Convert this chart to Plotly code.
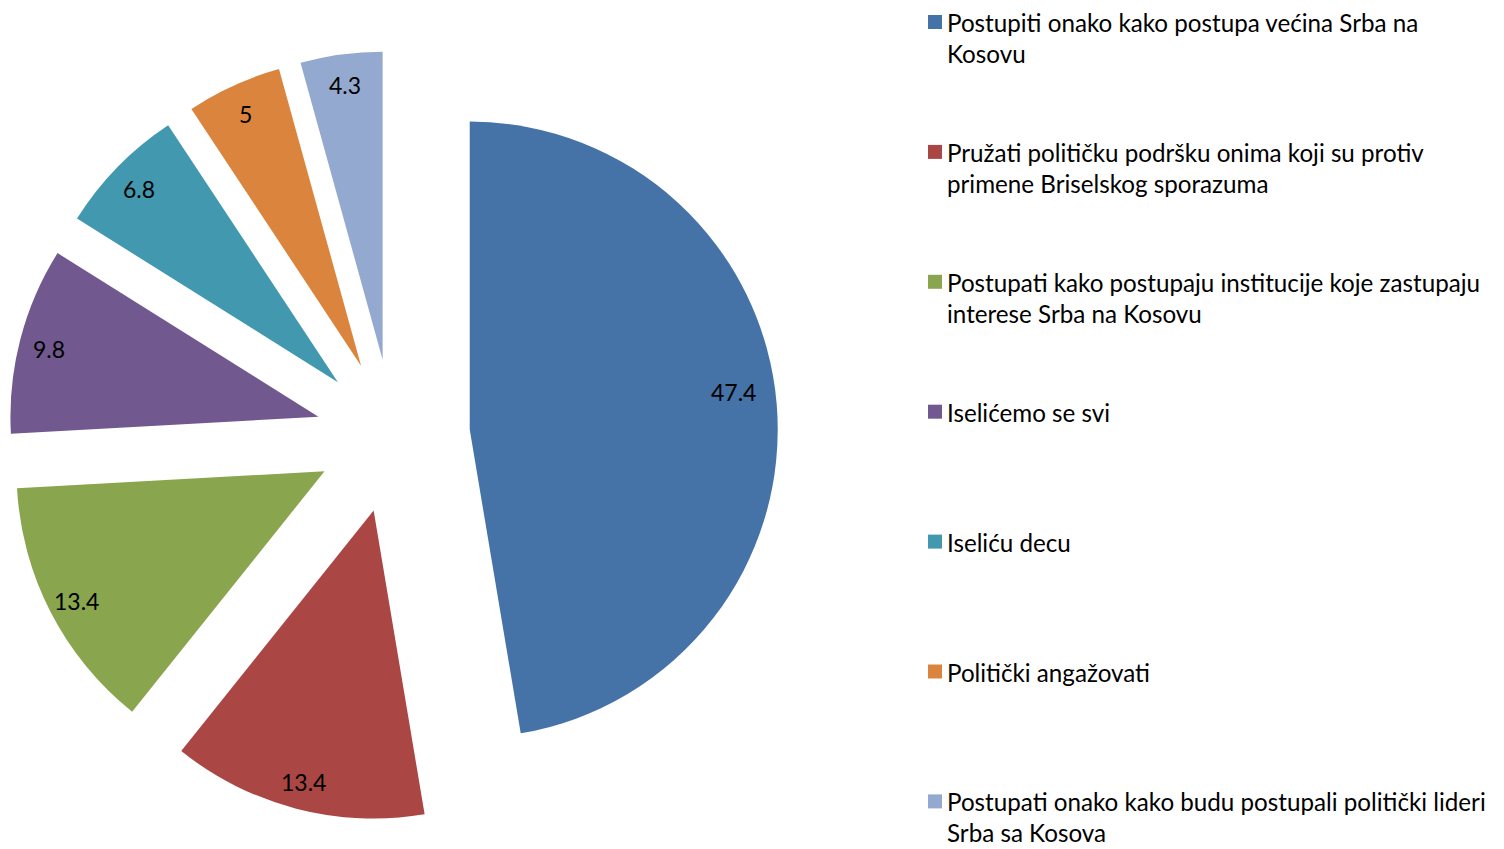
import math
import plotly.graph_objects as go

# ---- data ----
labels = [
    "Postupiti onako kako postupa većina Srba na<br>Kosovu",
    "Pružati političku podršku onima koji su protiv<br>primene Briselskog sporazuma",
    "Postupati kako postupaju institucije koje zastupaju<br>interese Srba na Kosovu",
    "Iselićemo se svi",
    "Iseliću decu",
    "Politički angažovati",
    "Postupati onako kako budu postupali politički lideri<br>Srba sa Kosova",
]
values = [47.4, 13.4, 13.4, 9.8, 6.8, 5, 4.3]
value_text = ["47.4", "13.4", "13.4", "9.8", "6.8", "5", "4.3"]
colors = ["#4572A7", "#AA4643", "#89A54E", "#71588F", "#4198AF", "#DB843D", "#93A9CF"]

# ---- layout constants ----
W, H = 1504, 849
OFF = 8  # page body margin
FONT = "Lato"
FS_LEG = 24.2
FS_LBL = 23
PULL = 0.25
cx_px, cy_px = 393 - OFF, 436 - OFF
half_px = 385  # radius * (1 + pull)
R_px = half_px / (1 + PULL)

hx = min(cx_px, half_px) / W
dom_x = [cx_px / W - hx, cx_px / W + hx]
cyp = 1 - cy_px / H
hy = min(half_px / H, 1 - cyp, cyp)
dom_y = [cyp - hy, cyp + hy]

fig = go.Figure(go.Pie(
    labels=labels,
    values=values,
    sort=False,
    direction="clockwise",
    rotation=0,
    pull=[PULL] * len(values),
    marker=dict(colors=colors, line=dict(width=0)),
    textinfo="none",
    hoverinfo="label+value",
    showlegend=False,
    domain=dict(x=dom_x, y=dom_y),
))

annotations = []
shapes = []

# data labels positioned from the slice angles
total = sum(values)
cum = 0.0
K = 0.905
for v, t in zip(values, value_text):
    frac = v / total
    mid = (cum + v / 2) / total
    cum += v
    th = 2 * math.pi * mid
    k = K if frac < 0.4 else K - 0.04
    if frac >= 0.4:
        th -= math.radians(3)
    px = cx_px + (PULL + k) * R_px * math.sin(th)
    py = cy_px - (PULL + k) * R_px * math.cos(th) + 2
    annotations.append(dict(
        x=px / W, y=1 - py / H, xref="paper", yref="paper",
        text=t, showarrow=False, xanchor="center", yanchor="middle",
        font=dict(family=FONT, size=FS_LBL, color="#000000"),
    ))

# legend drawn manually
LEG_X_SQ = 928 - OFF
LEG_X_TXT = 946 - OFF
LEG_Y0 = 23 - OFF
LEG_GAP = 129.9
SQ = 14
for i, (lab, col) in enumerate(zip(labels, colors)):
    yc = LEG_Y0 + LEG_GAP * i
    shapes.append(dict(
        type="rect", xref="paper", yref="paper",
        x0=LEG_X_SQ / W, x1=(LEG_X_SQ + SQ) / W,
        y0=1 - (yc - 1 - SQ / 2) / H, y1=1 - (yc - 1 + SQ / 2) / H,
        fillcolor=col, line=dict(width=0),
    ))
    annotations.append(dict(
        x=LEG_X_TXT / W, y=1 - (yc - 16) / H, xref="paper", yref="paper",
        text=lab, showarrow=False, xanchor="left", yanchor="top", align="left",
        borderpad=0,
        font=dict(family=FONT, size=FS_LEG, color="#000000"),
    ))

fig.update_layout(
    width=W, height=H,
    margin=dict(l=0, r=0, t=0, b=0),
    paper_bgcolor="white", plot_bgcolor="white",
    annotations=annotations, shapes=shapes,
    showlegend=False,
)

fig.write_html("out.html")
